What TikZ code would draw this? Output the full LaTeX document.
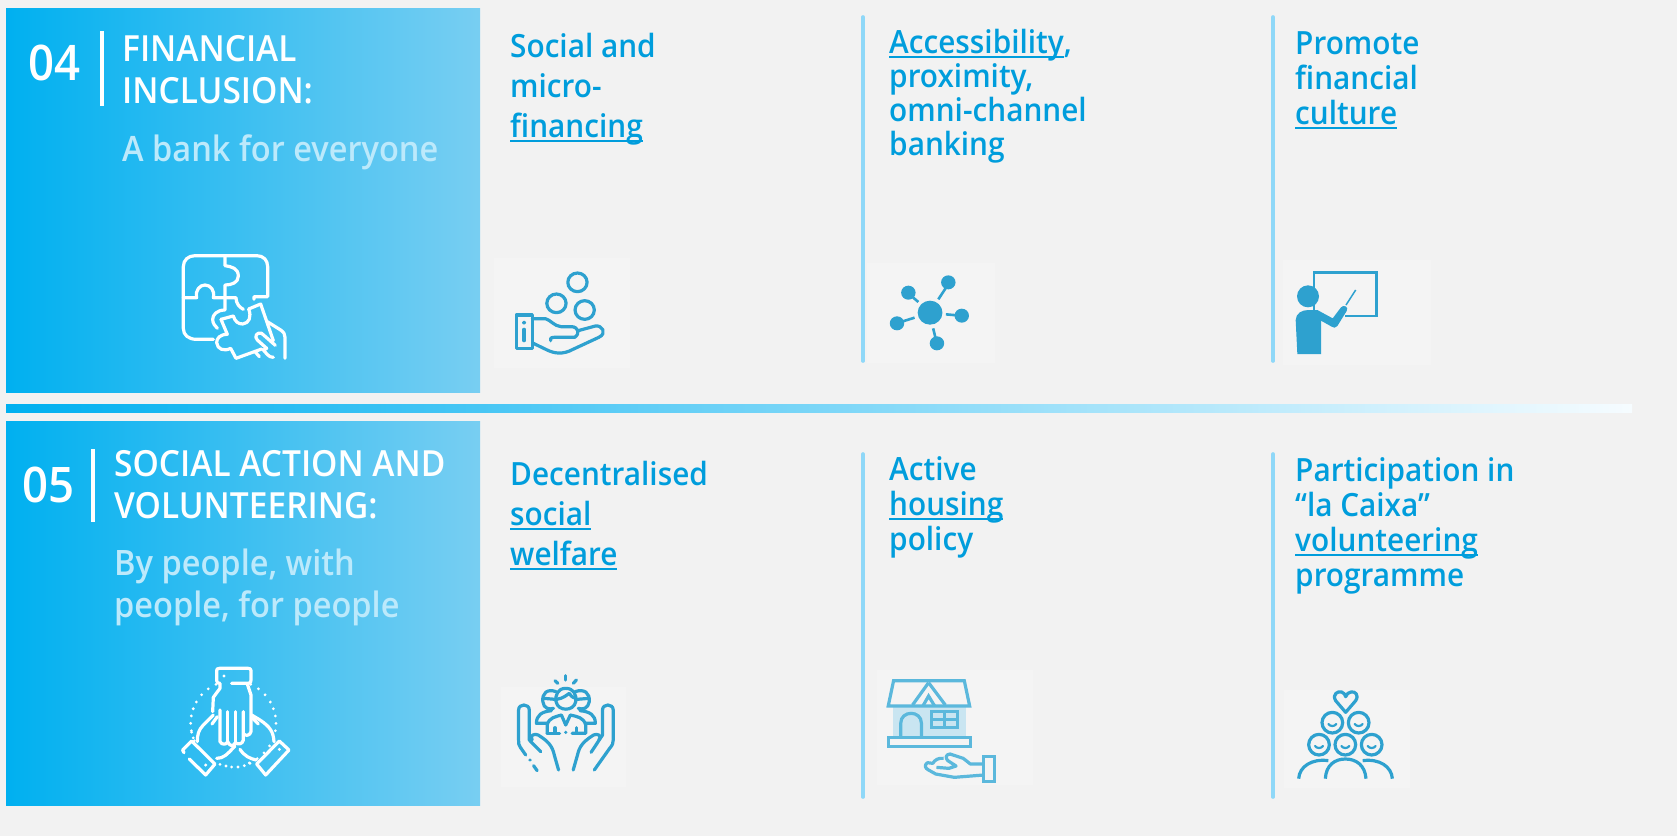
\documentclass[tikz,border=0pt]{standalone}
\usepackage{fontspec}
\setmainfont{Open Sans}
\newfontfamily\semib{Open Sans Semibold}[FakeStretch=0.93]
\usetikzlibrary{calc}
\definecolor{pagebg}{HTML}{F2F2F2}
\definecolor{panelbg}{HTML}{F4F4F4}
\definecolor{gradA}{HTML}{00B0F0}
\definecolor{gradB}{HTML}{78CEF2}
\definecolor{barEnd}{HTML}{F6FCFF}
\definecolor{subtxt}{HTML}{BCE9FB}
\definecolor{bluetxt}{HTML}{009DDC}
\definecolor{rulec}{HTML}{8FD8F8}
\definecolor{iconc}{HTML}{2EA1CF}
\definecolor{housec}{HTML}{5BB8DC}
\definecolor{housefill}{HTML}{C9E5F1}
\newcommand\ulx[1]{\setbox0\hbox{#1}\rlap{\vrule width\wd0 height -3pt depth 5pt}\box0}
\tikzset{
  bandbox/.style={left color=gradA,right color=gradB,draw=none},
  numtxt/.style={text=white,anchor=base west,inner sep=0pt,font=\semib\fontsize{49}{49}\selectfont},
  headtxt/.style={text=white,anchor=base west,inner sep=0pt,align=left,font=\semib\fontsize{36}{42}\selectfont},
  subhead/.style={text=subtxt,anchor=base west,inner sep=0pt,align=left,font=\semib\fontsize{35}{42}\selectfont},
  itemtxt/.style={text=bluetxt,anchor=base west,inner sep=0pt,align=left,font=\semib\fontsize{32}{#1}\selectfont},
  colrule/.style={draw=rulec,line width=3.6pt,line cap=round},
  whitesep/.style={draw=white,line width=3.2pt},
  panel/.style={fill=panelbg,draw=none},
  wicon/.style={draw=white,line width=3.2pt,line cap=round,line join=round},
  bicon/.style={draw=iconc,line width=3.2pt,line cap=round,line join=round},
  hicon/.style={draw=housec,line width=3.2pt,line join=miter},
}
\begin{document}
\begin{tikzpicture}[x=1pt,y=-1pt]
\useasboundingbox (0,0) rectangle (1677,836);
\fill[pagebg] (0,0) rectangle (1677,836);
% bands
\path[bandbox] (6,8) rectangle (480,392);
\path[bandbox] (6,421) rectangle (480,805);
\path[left color=gradA,right color=barEnd] (6,404) rectangle (1632,412);
% header 04
\node[numtxt] (n4) at (28,80) {04};
\coordinate (s4a) at (102,31); \coordinate (s4b) at (102,106);
\draw[whitesep] (s4a) -- (s4b);
\node[headtxt] (h4) at (122,103) {FINANCIAL\\INCLUSION:};
\node[subhead] (t4) at (122,161) {A bank for everyone};
% header 05
\node[numtxt] (n5) at (22,502) {05};
\coordinate (s5a) at (93,449); \coordinate (s5b) at (93,522);
\draw[whitesep] (s5a) -- (s5b);
\node[headtxt] (h5) at (114,518) {SOCIAL ACTION AND\\VOLUNTEERING:};
\node[subhead] (t5) at (114,617) {By people, with\\people, for people};
% dividers
\coordinate (d1a) at (863,17); \coordinate (d1b) at (863,361);
\coordinate (d2a) at (1273,17); \coordinate (d2b) at (1273,361);
\coordinate (d3a) at (863,454); \coordinate (d3b) at (863,797);
\coordinate (d4a) at (1273,454); \coordinate (d4b) at (1273,797);
\draw[colrule] (d1a)--(d1b); \draw[colrule] (d2a)--(d2b);
\draw[colrule] (d3a)--(d3b); \draw[colrule] (d4a)--(d4b);
% item text
\node[itemtxt=40] (i1) at (510,137) {Social and\\micro-\\\ulx{financing}};
\node[itemtxt=34] (i2) at (889,155) {\ulx{Accessibility},\\proximity,\\omni-channel\\banking};
\node[itemtxt=35] (i3) at (1295,124) {Promote\\financial\\\ulx{culture}};
\node[itemtxt=40] (i4) at (510,565) {Decentralised\\\ulx{social}\\\ulx{welfare}};
\node[itemtxt=35] (i5) at (889,550) {Active\\\ulx{housing}\\policy};
\node[itemtxt=35] (i6) at (1295,586) {Participation in\\“la Caixa”\\\ulx{volunteering}\\programme};
% panels
\fill[panel] (494,258) rectangle (630,368);
\fill[panel] (867,263) rectangle (995,363);
\fill[panel] (1283,260) rectangle (1431,365);
\fill[panel] (501,687) rectangle (626,787);
\fill[panel] (877,670) rectangle (1033,785);
\fill[panel] (1284,690) rectangle (1410,788);
% puzzle icon
\begin{scope}[x=0.33333pt,y=-0.33333pt,wicon]
\draw (640,1018) -- (590,1018) .. controls (565,1018) and (550,1005) .. (550,985) -- (550,800) .. controls (550,780) and (565,767) .. (585,767) -- (770,767) .. controls (790,767) and (803,780) .. (803,800) -- (803,890) -- (762,890) -- (762,898);
\draw (675,767) -- (675,797) .. controls (695,800) and (715,805) .. (715,828) .. controls (715,848) and (695,855) .. (675,855) -- (675,930) .. controls (650,930) and (638,945) .. (638,958) .. controls (638,970) and (645,978) .. (652,985);
\draw (550,893) -- (590,893) .. controls (585,870) and (600,855) .. (615,855) .. controls (632,855) and (645,872) .. (640,893) -- (708,893) .. controls (708,910) and (718,922) .. (730,928);
\draw (663,958) -- (700,948) .. controls (705,965) and (715,972) .. (728,972) .. controls (748,970) and (755,950) .. (746,927) -- (782,912) -- (820,1022);
\draw (663,958) -- (682,1003) .. controls (660,1003) and (650,1015) .. (650,1028) .. controls (652,1048) and (672,1055) .. (692,1045) -- (708,1075) -- (785,1047);
\draw (765,1055) -- (778,1070);
\draw (802,965) -- (842,990) .. controls (852,997) and (855,1003) .. (855,1012) -- (855,1075);
\draw (826,1036) -- (785,1000) .. controls (770,995) and (762,1010) .. (772,1020) -- (800,1045) -- (790,1050) .. controls (800,1060) and (805,1072) .. (820,1072);
\end{scope}
% hands-together icon
\begin{scope}[shift={(0,410)},x=0.33333pt,y=-0.33333pt,wicon]
\draw (695,820) -- (745,820) .. controls (752,820) and (753,815) .. (753,810) -- (753,782) .. controls (753,777) and (750,775) .. (745,775) -- (658,775) .. controls (652,775) and (650,778) .. (650,782) -- (650,812) .. controls (650,818) and (655,820) .. (660,820);
\fill[white,draw=none] (672,798) circle[radius=5];
\draw (660,822) -- (660,835) -- (640,862) -- (638,905);
\draw (742,822) -- (753,855) -- (753,965) .. controls (750,978) and (735,978) .. (732,972);
\draw (660,900) -- (660,995) .. controls (665,1005) and (680,1005) .. (683,995) .. controls (690,1010) and (700,1010) .. (706,998) .. controls (715,1005) and (728,1002) .. (730,990) -- (730,905);
\draw (683,905) -- (683,995); \draw (706,905) -- (706,998);
\draw (640,915) -- (610,945) .. controls (595,960) and (592,975) .. (592,995);
\draw (652,920) -- (636,942);
\draw (650,1045) .. controls (670,1045) and (680,1035) .. (705,1008);
\draw (548,1020) -- (575,993) -- (645,1062) -- (617,1095) -- (568,1047);
\draw (548,1020) -- (552,1028);
\fill[white,draw=none] (617,1065) circle[radius=5];
\draw (755,915) -- (780,930) .. controls (810,950) and (820,965) .. (822,995);
\draw (758,925) -- (775,942);
\draw (720,1018) .. controls (735,1040) and (750,1045) .. (768,1050);
\draw (867,1020) -- (838,993) -- (770,1062) -- (797,1095) -- cycle;
\fill[white,draw=none] (838,1018) circle[radius=5];
\foreach \a in {20,32,44,56,68,-20,-10,0,10,-66,-54,-42,-30,-114,-126,-138,-150,-160,-170,-180,-192,-204,170,160}{
 \fill[white,draw=none] ($(700,940)+(\a:128)$) circle[radius=4.6];}
\foreach \x/\y in {660/1063,678/1068,695/1071,714/1071,733/1067,750/1060}{\fill[white,draw=none] (\x,\y) circle[radius=4.6];}
\end{scope}
% coins in hand
\begin{scope}[shift={(480,240)},x=0.34435pt,y=-0.33333pt,bicon]
\draw (283,127) circle[radius=28];
\draw (222,190) circle[radius=28];
\draw (304,210) circle[radius=28];
\draw (105,225) rectangle (152,325);
\draw[line width=2pt] (128,248) circle[radius=3];
\draw (128,268) -- (128,302);
\draw (152,236) -- (190,236) .. controls (205,240) and (215,258) .. (235,260) -- (265,260) .. controls (285,260) and (292,280) .. (275,292) -- (215,292) .. controls (205,292) and (203,297) .. (205,302);
\draw (285,272) -- (335,258) .. controls (355,255) and (370,280) .. (345,292) -- (270,328) .. controls (240,345) and (215,340) .. (195,330) -- (155,310);
\end{scope}
% network
\begin{scope}[shift={(480,240)},x=0.34435pt,y=-0.33333pt]
\fill[iconc] (1307,218) circle[radius=36];
\foreach \x/\y in {1244/158,1360/127,1399/227,1211/250,1327/310}{\fill[iconc] (\x,\y) circle[radius=21];}
\draw[iconc,line width=2.6pt] (1255,170) -- (1273,186);
\draw[iconc,line width=2.6pt] (1352,145) -- (1331,178);
\draw[iconc,line width=2.6pt] (1353,223) -- (1385,226);
\draw[iconc,line width=2.6pt] (1262,233) -- (1225,245);
\draw[iconc,line width=2.6pt] (1316,265) -- (1323,295);
\end{scope}
% teacher
\begin{scope}[shift={(1260,250)},x=0.33333pt,y=-0.33333pt]
\draw[iconc,line width=2.4pt] (162,68) rectangle (350,198);
\fill[panelbg] (190,190) rectangle (255,205);
\fill[iconc] (144,139) circle[radius=33];
\fill[iconc] (107,210) .. controls (108,190) and (125,180) .. (145,180) -- (172,180) -- (218,205) -- (243,172) .. controls (250,163) and (268,170) .. (260,183) -- (232,228) .. controls (227,235) and (220,234) .. (215,230) -- (183,212) -- (183,312) -- (112,312) -- cycle;
\draw[iconc,line width=1.5pt] (258,165) -- (287,120);
\end{scope}
% hands with people
\begin{scope}[shift={(490,660)},x=0.35714pt,y=-0.33333pt,bicon]
\draw (212,47) -- (212,60); \draw (182,62) -- (190,70); \draw (242,60) -- (233,70);
\draw (100,285) -- (85,262) .. controls (80,255) and (80,250) .. (80,240) -- (80,150) .. controls (80,130) and (110,130) .. (110,150) -- (110,225) -- (110,240) -- (142,275);
\draw (118,240) .. controls (110,225) and (125,220) .. (135,225) .. controls (165,245) and (175,260) .. (180,285) -- (192,330);
\fill[iconc,draw=none] (112,300) circle[radius=5];
\draw (122,317) -- (132,332);
\draw (292,330) -- (335,265) .. controls (343,255) and (345,250) .. (345,240) -- (345,150) .. controls (345,130) and (315,130) .. (315,150) -- (315,225) -- (283,277);
\draw (305,240) .. controls (315,225) and (300,220) .. (290,225) .. controls (260,245) and (250,260) .. (245,285) -- (233,330);
\draw (212,85) .. controls (190,85) and (182,105) .. (185,125) .. controls (190,155) and (235,155) .. (240,125) .. controls (243,105) and (235,85) .. (212,85);
\draw (187,118) .. controls (205,115) and (215,105) .. (222,100) .. controls (228,110) and (235,115) .. (240,115);
\draw (185,95) .. controls (160,85) and (145,100) .. (148,125) .. controls (150,145) and (165,150) .. (178,145);
\draw (150,115) -- (183,118);
\draw (238,95) .. controls (265,85) and (280,100) .. (278,125) .. controls (275,145) and (260,150) .. (247,145);
\draw (243,118) -- (277,115);
\draw (160,220) -- (160,195) .. controls (165,172) and (185,170) .. (200,165) -- (212,195) -- (225,165) .. controls (245,170) and (262,172) .. (268,195) -- (268,220) -- (230,220);
\draw (160,220) -- (195,220);
\draw (182,203) -- (182,215); \draw (242,203) -- (242,215);
\fill[iconc,draw=none] (212,217) circle[radius=5];
\draw (160,190) -- (130,190) .. controls (130,165) and (145,155) .. (172,152);
\draw (268,190) -- (295,190) .. controls (295,165) and (280,155) .. (252,152);
\end{scope}
% house
\begin{scope}[shift={(490,660)},x=0.35714pt,y=-0.33333pt,hicon]
\fill[housefill,draw=none] (1128,135) rectangle (1332,235);
\draw (1130,62) -- (1328,62) -- (1343,138) -- (1115,138) -- cycle;
\draw (1228,68) -- (1183,135); \draw (1228,68) -- (1275,135);
\draw (1212,138) -- (1228,108) -- (1245,138);
\draw (1150,235) -- (1150,190) .. controls (1150,150) and (1208,150) .. (1208,190) -- (1208,235);
\draw (1237,155) rectangle (1310,203);
\draw (1237,178) -- (1310,178); \draw (1273,155) -- (1273,203);
\draw (1115,233) rectangle (1345,260);
\draw (1382,290) rectangle (1412,365);
\draw[line join=round] (1382,312) -- (1345,312) -- (1325,295) -- (1288,282) .. controls (1275,283) and (1275,295) .. (1282,302) -- (1305,318) -- (1285,325) -- (1250,322);
\draw[line join=round] (1270,295) .. controls (1255,293) and (1245,300) .. (1240,310) -- (1225,308) .. controls (1215,315) and (1218,325) .. (1228,330) -- (1248,342) -- (1300,352) -- (1382,345);
\end{scope}
% people with heart
\begin{scope}[shift={(1270,670)},x=0.33333pt,y=-0.33333pt,bicon]
\draw (227,127) -- (197,92) .. controls (185,72) and (205,62) .. (215,66) .. controls (222,68) and (226,75) .. (227,80) .. controls (230,72) and (235,67) .. (243,66) .. controls (255,63) and (268,75) .. (257,92) -- cycle;
\foreach \x/\y in {187/158,266/158,147/224,226/224,305/224}{
 \draw (\x,\y) circle[radius=31];
 \draw[line width=2.2pt] (\x-12,\y+4) .. controls (\x-6,\y+12) and (\x+6,\y+12) .. (\x+12,\y+4);
}
\draw[line cap=butt] (86,326) .. controls (88,290) and (125,265) .. (175,272);
\draw[line cap=butt] (166,326) .. controls (168,285) and (195,267) .. (226,267) .. controls (258,267) and (285,285) .. (288,326);
\draw[line cap=butt] (278,272) .. controls (328,265) and (365,290) .. (367,326);
\end{scope}
\end{tikzpicture}
\end{document}
